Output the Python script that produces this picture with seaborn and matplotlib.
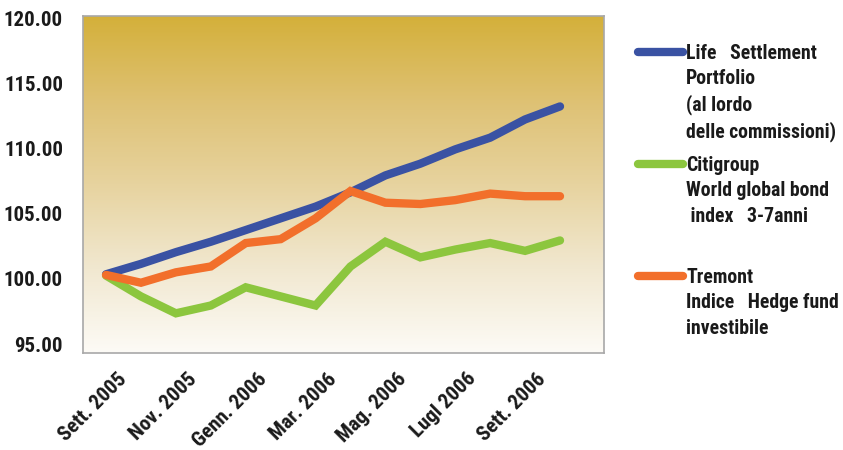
import numpy as np
import pandas as pd
import matplotlib
matplotlib.use("Agg")
import matplotlib.pyplot as plt
import matplotlib.transforms as mtransforms
import matplotlib.font_manager as fm
from matplotlib.lines import Line2D
from matplotlib.colors import LinearSegmentedColormap
import seaborn as sns

# ---------------- data ----------------
months = ["Sett. 2005", "Ott. 2005", "Nov. 2005", "Dic. 2005", "Genn. 2006",
          "Febb. 2006", "Mar. 2006", "Apr. 2006", "Mag. 2006", "Giu. 2006",
          "Lugl 2006", "Ago. 2006", "Sett. 2006", "Ott. 2006"]
tick_labels = ["Sett. 2005", "Nov. 2005", "Genn. 2006", "Mar. 2006",
               "Mag. 2006", "Lugl 2006", "Sett. 2006"]
life = [100.9, 101.7, 102.6, 103.4, 104.3, 105.2, 106.1, 107.2, 108.5, 109.4,
        110.5, 111.4, 112.8, 113.8]
citi = [100.8, 99.2, 97.9, 98.5, 99.9, 99.2, 98.5, 101.5, 103.4, 102.2,
        102.8, 103.3, 102.7, 103.5]
tremont = [100.85, 100.25, 101.05, 101.5, 103.3, 103.6, 105.2, 107.3, 106.4,
           106.3, 106.6, 107.1, 106.9, 106.9]
series_names = ["Life Settlement", "Citigroup", "Tremont"]
legend_lines = [
    ["Life   Settlement", "Portfolio", "(al lordo", "delle commissioni)"],
    ["Citigroup", "World global bond", " index   3-7anni"],
    ["Tremont", "Indice   Hedge fund", "investibile"],
]
y_ticks = [95, 100, 105, 110, 115, 120]

colors = ["#3a52a3", "#8cc63e", "#f26f2b"]


# ---------------- font: bold condensed ----------------
def pick_font():
    entries = fm.fontManager.ttflist

    def isbold(f):
        return f.weight in (600, 700, 800, 900, "bold", "heavy", "black", "semibold")

    prefs = [
        lambda f: f.name == "Liberation Sans Narrow" and isbold(f),
        lambda f: "Roboto Condensed" in f.name and isbold(f),
        lambda f: "Condensed" in f.name and "Roboto" in f.name,
        lambda f: f.name.startswith("DejaVu Sans") and "Condensed-Bold" in f.fname
                  and "Oblique" not in f.fname,
        lambda f: ("Condensed" in f.fname or "Narrow" in f.fname) and isbold(f)
                  and "Oblique" not in f.fname and "Italic" not in f.fname,
    ]
    for p in prefs:
        for f in entries:
            try:
                if p(f):
                    return f.fname
            except Exception:
                pass
    return None


FNAME = pick_font()


def fp(size):
    if FNAME:
        return fm.FontProperties(fname=FNAME, size=size)
    return fm.FontProperties(family="DejaVu Sans", weight="bold", size=size * 0.8)


# ---------------- figure ----------------
fig = plt.figure(figsize=(8.43, 4.5), dpi=100)
W, H = 843, 450
ax = fig.add_axes([83 / W, 1 - 353 / H, (604 - 83) / W, (353 - 16) / H])

# gradient background
cmap = LinearSegmentedColormap.from_list(
    "bg", [(0.0, "#fdfbf6"), (0.25, "#f1e8d0"), (0.5, "#e7d39f"),
           (0.75, "#dec173"), (1.0, "#d4b03a")])
grad = np.linspace(0, 1, 256).reshape(-1, 1)
ax.imshow(grad, extent=[0, 1, 0, 1], transform=ax.transAxes, origin="lower",
          aspect="auto", cmap=cmap, zorder=0)

idx = np.arange(len(months))
df = pd.DataFrame({
    "idx": np.concatenate([idx, idx, idx]),
    "value": life + citi + tremont,
    "series": np.repeat(series_names, len(months)),
})
sns.lineplot(data=df, x="idx", y="value", hue="series", hue_order=series_names,
             palette=colors, linewidth=6, ax=ax, legend=False, sort=False,
             zorder=3)
for ln in ax.get_lines():
    ln.set_solid_capstyle("round")
    ln.set_solid_joinstyle("miter")

ax.set_xlim(-0.66, 14.26)
ax.set_ylim(94.85, 120.75)
ax.set_xlabel("")
ax.set_ylabel("")

# y axis
ax.set_yticks(y_ticks)
ax.set_yticklabels([f"{v:.2f}" for v in y_ticks], fontproperties=fp(15),
                   color="#1a1a1a")
ax.set_yticks([100, 105, 110, 115], minor=True)
ax.yaxis.grid(True, which="minor", color="#a3a3a3", linewidth=1.2, zorder=1)
ax.yaxis.grid(False, which="major")
ax.xaxis.grid(False)
ax.tick_params(axis="y", which="both", length=0, pad=14.4)
shift_up = mtransforms.ScaledTranslation(0, 7 / 100, fig.dpi_scale_trans)
for lbl in ax.get_yticklabels():
    lbl.set_transform(lbl.get_transform() + shift_up)

# x axis
ax.set_xticks(idx[::2])
ax.set_xticklabels(tick_labels, rotation=45, ha="right", va="center",
                   rotation_mode="anchor", fontproperties=fp(15),
                   color="#1a1a1a")
ax.tick_params(axis="x", length=0, pad=0)
shift_x = mtransforms.ScaledTranslation(18 / 100, -23 / 100, fig.dpi_scale_trans)
for lbl in ax.get_xticklabels():
    lbl.set_transform(lbl.get_transform() + shift_x)

for sp in ax.spines.values():
    sp.set_color("#a8a8a8")
    sp.set_linewidth(1.2)
    sp.set_zorder(4)

# legends (one block per series)
tops = [44, 156, 268]
for col, lines, top in zip(colors, legend_lines, tops):
    handles = [Line2D([], [], color=col, lw=6, solid_capstyle="round")]
    handles += [Line2D([], [], color="none")] * (len(lines) - 1)
    leg = fig.legend(handles, lines, loc="upper left",
                     bbox_to_anchor=(638 / W, 1 - top / H),
                     bbox_transform=fig.transFigure, frameon=False,
                     borderpad=0, borderaxespad=0, handlelength=2.3,
                     handletextpad=0.15, labelspacing=0.32, prop=fp(14.2))
    for t in leg.get_texts():
        t.set_color("#1a1a1a")

fig.savefig("out.png", dpi=100)
